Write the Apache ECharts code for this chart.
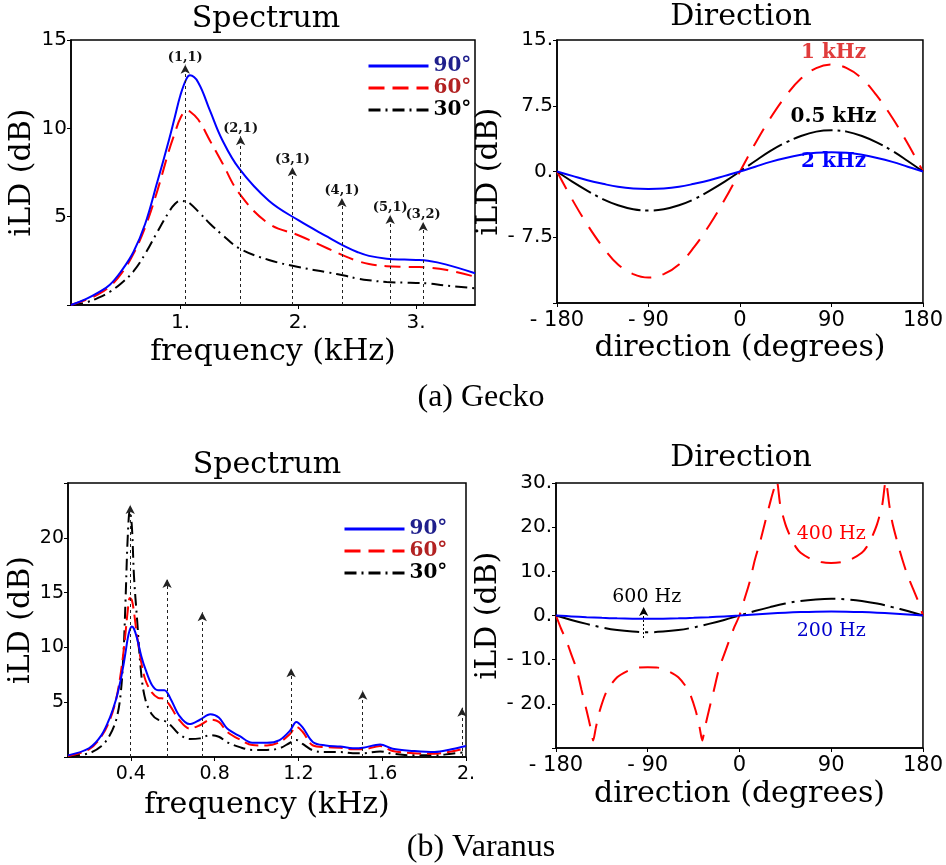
<!DOCTYPE html>
<html>
<head>
<meta charset="utf-8">
<script src="https://cdn.jsdelivr.net/npm/echarts@6/dist/echarts.min.js"></script>
<style>
  html, body { margin: 0; padding: 0; background: #fff; }
  #chart { width: 946px; height: 865px; }
</style>
</head>
<body>
<div id="chart"></div>
<script>
// ---------- (a) Gecko: spectrum ----------
const geckoFreq = [0.07, 0.2, 0.3, 0.4, 0.5, 0.6, 0.7, 0.8, 0.9, 0.95, 1.0, 1.05, 1.08, 1.15, 1.25, 1.35, 1.5, 1.75, 2.0, 2.25, 2.4, 2.5, 2.6, 2.75, 2.9, 3.0, 3.1, 3.25, 3.5];
const gecko90 = [0, 0.35, 0.7, 1.15, 1.95, 3.0, 4.6, 6.9, 9.3, 10.6, 11.9, 12.8, 13.0, 12.6, 11.0, 9.4, 7.7, 5.9, 4.8, 3.85, 3.3, 3.0, 2.78, 2.62, 2.57, 2.55, 2.5, 2.3, 1.8];
const gecko60 = [0, 0.3, 0.6, 1.05, 1.8, 2.9, 4.4, 6.4, 8.7, 9.7, 10.6, 11.0, 10.95, 10.5, 9.3, 8.1, 6.3, 4.6, 3.95, 3.2, 2.75, 2.5, 2.32, 2.2, 2.16, 2.15, 2.12, 2.0, 1.6];
const gecko30 = [0, 0.15, 0.4, 0.75, 1.25, 1.9, 2.9, 4.1, 5.25, 5.7, 5.9, 5.85, 5.75, 5.3, 4.6, 4.0, 3.2, 2.55, 2.15, 1.85, 1.65, 1.5, 1.4, 1.3, 1.27, 1.25, 1.22, 1.1, 0.95];
const geckoModeFreq = [1.04, 1.51, 1.95, 2.37, 2.78, 3.06];
const geckoModeTip = [13.6, 9.55, 7.8, 6.05, 5.1, 4.7];
const geckoModeName = ['(1,1)', '(2,1)', '(3,1)', '(4,1)', '(5,1)', '(3,2)'];
const geckoFreqTicks = [1, 2, 3];

// ---------- (a) Gecko: direction ----------
const geckoAngle = [-180, -165, -150, -135, -120, -105, -90, -75, -60, -45, -30, -15, 0, 15, 30, 45, 60, 75, 90, 105, 120, 135, 150, 165, 180];
const geckoDir1k = [0, -3.2, -6.1, -8.6, -10.6, -11.7, -12.1, -11.7, -10.6, -8.6, -6.1, -3.2, 0, 3.2, 6.1, 8.6, 10.6, 11.8, 12.2, 11.8, 10.6, 8.6, 6.1, 3.2, 0];
const geckoDir05k = [0, -1.15, -2.2, -3.15, -3.85, -4.3, -4.45, -4.3, -3.85, -3.15, -2.2, -1.15, 0, 1.2, 2.35, 3.3, 4.05, 4.55, 4.7, 4.55, 4.05, 3.3, 2.35, 1.2, 0];
const geckoDir2k = [0, -0.5, -1.0, -1.4, -1.75, -1.95, -2.0, -1.95, -1.75, -1.4, -1.0, -0.5, 0, 0.55, 1.1, 1.55, 1.9, 2.15, 2.2, 2.15, 1.9, 1.55, 1.1, 0.55, 0];

// ---------- (b) Varanus: spectrum ----------
const varanusFreq = [0.1, 0.2, 0.26, 0.3, 0.33, 0.35, 0.365, 0.375, 0.385, 0.395, 0.405, 0.415, 0.43, 0.45, 0.47, 0.5, 0.53, 0.56, 0.59, 0.63, 0.68, 0.73, 0.78, 0.82, 0.86, 0.92, 0.98, 1.05, 1.11, 1.16, 1.19, 1.22, 1.27, 1.33, 1.4, 1.46, 1.51, 1.59, 1.65, 1.75, 1.85, 1.93, 2.0];
const varanus90 = [0.15, 0.8, 2.0, 3.6, 5.3, 6.9, 8.4, 9.6, 10.8, 11.6, 11.9, 11.7, 10.8, 9.2, 8.0, 6.6, 6.1, 6.1, 5.3, 3.8, 3.0, 3.4, 3.9, 3.6, 2.6, 1.9, 1.3, 1.3, 1.55, 2.4, 3.2, 2.7, 1.35, 1.05, 0.95, 0.8, 0.85, 1.15, 0.75, 0.55, 0.45, 0.7, 1.0];
const varanus60 = [0.1, 0.7, 1.9, 3.4, 5.3, 7.4, 9.6, 11.4, 13.3, 14.5, 14.3, 13.2, 11.0, 8.6, 7.0, 5.9, 5.4, 5.3, 4.6, 3.4, 2.6, 2.9, 3.4, 3.2, 2.3, 1.6, 1.1, 1.05, 1.35, 2.1, 2.75, 2.3, 1.05, 0.9, 0.85, 0.7, 0.7, 1.0, 0.55, 0.35, 0.3, 0.5, 0.8];
const varanus30 = [0.05, 0.35, 1.0, 2.0, 3.4, 5.5, 9.5, 14.5, 20.0, 22.5, 21.0, 16.5, 12.5, 7.5, 5.2, 3.9, 3.4, 3.3, 2.9, 2.1, 1.65, 1.7, 2.0, 1.85, 1.35, 0.9, 0.65, 0.65, 0.8, 1.3, 1.55, 1.2, 0.6, 0.45, 0.45, 0.35, 0.35, 0.5, 0.3, 0.15, 0.15, 0.3, 0.45];
const varanusModeFreq = [0.397, 0.573, 0.741, 1.165, 1.507, 1.981];
const varanusModeTip = [23.0, 16.25, 13.2, 8.1, 6.05, 4.5];
const varanusFreqTicks = [0.4, 0.8, 1.2, 1.6, 2.0];

// ---------- (b) Varanus: direction ----------
const varanusAngle = geckoAngle;
const varanusDir600 = [0, -1.0, -1.9, -2.7, -3.3, -3.65, -3.8, -3.65, -3.3, -2.7, -1.9, -1.0, 0, 1.0, 1.9, 2.7, 3.3, 3.65, 3.8, 3.65, 3.3, 2.7, 1.9, 1.0, 0];
const varanusDir200 = [0, -0.2, -0.38, -0.53, -0.65, -0.72, -0.75, -0.72, -0.65, -0.53, -0.38, -0.2, 0, 0.23, 0.45, 0.64, 0.78, 0.87, 0.9, 0.87, 0.78, 0.64, 0.45, 0.23, 0];
const varanus400Angle = [-180, -175, -170, -165, -160, -155, -150, -146, -143.5, -141, -137, -130, -120, -110, -100, -90, -80, -70, -60, -50, -43, -39, -36.5, -34, -30, -25, -20, -15, -10, -5, 0, 5, 10, 15, 20, 25, 30, 33, 36.5, 40, 45, 50, 55, 60, 70, 80, 90, 100, 110, 120, 125, 130, 135, 140, 143.5, 147, 150, 155, 160, 165, 170, 175, 180];
const varanusDir400 = [0, -3.0, -5.6, -8.8, -12.0, -16.8, -21.5, -25.5, -28.3, -25.5, -21.5, -17.0, -14.0, -12.6, -11.8, -11.7, -11.8, -12.6, -14.0, -17.0, -21.5, -25.5, -28.3, -25.5, -21.5, -16.8, -12.0, -8.8, -5.6, -2.6, 0, 3.8, 7.6, 12.5, 16.5, 21.0, 25.5, 28.0, 30.5, 25.0, 20.7, 17.8, 15.6, 14.2, 12.8, 12.1, 11.9, 12.1, 12.8, 14.2, 15.6, 17.8, 20.7, 25.0, 30.5, 25.0, 21.0, 16.5, 12.5, 9.0, 6.2, 3.4, 0];
const varanusArrowAngle = -94;
const varanusArrowFrom = -5.1;
const varanusArrowTo = 1.9;

// ---------- helpers ----------
const zip = (xs, ys) => xs.map((x, i) => [x, ys[i]]);
const SANS = 'DejaVu Sans';
const SERIF = 'DejaVu Serif';
const BLUE = '#0000ff', RED = '#ff0000', BLACK = '#000000';

function valueAxis(gridIndex, extra) {
  return Object.assign({
    type: 'value',
    gridIndex: gridIndex,
    nameLocation: 'middle',
    nameTextStyle: { fontFamily: SERIF, fontSize: 30, color: '#000' },
    splitLine: { show: false },
    axisLine: { show: true, onZero: false, lineStyle: { color: '#000', width: 1.5 } },
    axisTick: { show: true, inside: false, length: 4, lineStyle: { color: '#000', width: 1 } },
    axisLabel: { fontFamily: SANS, fontSize: 20, color: '#000', margin: 5 }
  }, extra);
}

function modeArrows(freqs, tips, names, labelled) {
  return freqs.map((f, i) => [
    { coord: [f, 0], name: labelled ? names[i] : '' },
    { coord: [f, tips[i]] }
  ]);
}

function textMarks(items, color, bold) {
  return {
    symbol: 'circle',
    symbolSize: 0,
    silent: true,
    label: { show: true, position: 'inside', formatter: '{b}', color: color, fontFamily: SERIF,
             fontWeight: bold ? 'bold' : 'normal', fontSize: bold ? 20 : 19 },
    data: items.map(it => ({ coord: [it[0], it[1]], name: it[2] }))
  };
}

const arrowLine = {
  silent: true,
  symbol: ['none', 'arrow'],
  symbolSize: [7, 9],
  lineStyle: { color: '#222', width: 1, type: [3, 3] },
  label: { show: true, position: 'end', formatter: '{b}', distance: 1,
           fontFamily: SERIF, fontWeight: 'bold', fontSize: 13, color: '#111' }
};

function spectrumLegend(left, top) {
  return {
    left: left, top: top, padding: 0, orient: 'vertical', itemWidth: 60, itemHeight: 14, itemGap: 2,
    selectedMode: false,
    itemStyle: { opacity: 0, borderWidth: 0 },
    lineStyle: { width: 3 },
    textStyle: { fontFamily: SERIF, fontWeight: 'bold', fontSize: 20 },
    data: [
      { name: '90°', textStyle: { color: '#1f1f8c' } },
      { name: '60°', textStyle: { color: '#b22222' } },
      { name: '30°', textStyle: { color: '#000' } }
    ]
  };
}

const chart = echarts.init(document.getElementById('chart'), null, { renderer: 'canvas' });

const option = {
  animation: false,
  backgroundColor: '#fff',
  grid: [
    { left: 71,  top: 40,  width: 404, height: 265, show: true, borderColor: '#000', borderWidth: 1.5 },
    { left: 557, top: 40,  width: 367, height: 263, show: true, borderColor: '#000', borderWidth: 1.5 },
    { left: 68,  top: 483, width: 398, height: 274, show: true, borderColor: '#000', borderWidth: 1.5 },
    { left: 556, top: 483, width: 368, height: 265, show: true, borderColor: '#000', borderWidth: 1.5 }
  ],
  xAxis: [
    valueAxis(0, {
      min: 0.07, max: 3.5, name: 'frequency (kHz)', nameGap: 32,
      axisTick: { show: true, length: 4, customValues: geckoFreqTicks, lineStyle: { color: '#000' } },
      axisLabel: { fontFamily: SANS, fontSize: 20, color: '#000', margin: 8,
                   customValues: geckoFreqTicks, formatter: v => v + '.' }
    }),
    valueAxis(1, {
      min: -180, max: 180, interval: 90, name: 'direction (degrees)', nameGap: 30,
      axisLabel: { fontFamily: SANS, fontSize: 21, color: '#000', margin: 7,
                   formatter: v => (v < 0 ? '- ' + Math.abs(v) : String(v)) }
    }),
    valueAxis(2, {
      min: 0.1, max: 2.0, name: 'frequency (kHz)', nameGap: 33,
      axisTick: { show: true, length: 4, customValues: varanusFreqTicks, lineStyle: { color: '#000' } },
      axisLabel: { fontFamily: SANS, fontSize: 19, color: '#000', margin: 8,
                   customValues: varanusFreqTicks, formatter: v => (v === 2 ? '2.' : v.toFixed(1)) }
    }),
    valueAxis(3, {
      min: -180, max: 180, interval: 90, name: 'direction (degrees)', nameGap: 31,
      axisLabel: { fontFamily: SANS, fontSize: 21, color: '#000', margin: 7,
                   formatter: v => (v < 0 ? '- ' + Math.abs(v) : String(v)) }
    })
  ],
  yAxis: [
    valueAxis(0, {
      min: 0, max: 15, interval: 5, name: 'iLD (dB)', nameGap: 32,
      axisLabel: { fontFamily: SANS, fontSize: 20, color: '#000', margin: 4,
                   formatter: v => (v === 0 ? '' : String(v)) }
    }),
    valueAxis(1, {
      min: -15, max: 15, interval: 7.5, name: 'iLD (dB)', nameGap: 46,
      axisLabel: { fontFamily: SANS, fontSize: 20, color: '#000', margin: 4,
                   formatter: v => ({ '15': '15.', '7.5': '7.5', '0': '0.', '-7.5': '- 7.5' }[String(v)] || '') }
    }),
    valueAxis(2, {
      min: 0, max: 25, interval: 5, name: 'iLD (dB)', nameGap: 28,
      axisLabel: { fontFamily: SANS, fontSize: 19, color: '#000', margin: 4,
                   formatter: v => (v === 0 || v === 25 ? '' : String(v)) }
    }),
    valueAxis(3, {
      min: -30, max: 30, interval: 10, name: 'iLD (dB)', nameGap: 45,
      axisLabel: { fontFamily: SANS, fontSize: 20, color: '#000', margin: 4,
                   formatter: v => (v === -30 ? '' : (v < 0 ? '- ' + Math.abs(v) + '.' : v + '.')) }
    })
  ],
  legend: [spectrumLegend(367, 56), spectrumLegend(343, 519)],
  series: [
    // (a) spectrum
    { name: '30°', type: 'line', xAxisIndex: 0, yAxisIndex: 0, data: zip(geckoFreq, gecko30), smooth: 0.4,
      showSymbol: false, symbol: 'none', color: BLACK, lineStyle: { color: BLACK, width: 2, type: [12, 5, 2, 5] } },
    { name: '60°', type: 'line', xAxisIndex: 0, yAxisIndex: 0, data: zip(geckoFreq, gecko60), smooth: 0.4,
      showSymbol: false, symbol: 'none', color: RED, lineStyle: { color: RED, width: 2, type: [16, 8] } },
    { name: '90°', type: 'line', xAxisIndex: 0, yAxisIndex: 0, data: zip(geckoFreq, gecko90), smooth: 0.4,
      showSymbol: false, symbol: 'none', color: BLUE, lineStyle: { color: BLUE, width: 2 } },
    { name: 'gecko modes', type: 'line', xAxisIndex: 0, yAxisIndex: 0, data: [],
      markLine: Object.assign({}, arrowLine, { data: modeArrows(geckoModeFreq, geckoModeTip, geckoModeName, true) }) },

    // (a) direction
    { name: '1 kHz', type: 'line', xAxisIndex: 1, yAxisIndex: 1, data: zip(geckoAngle, geckoDir1k), smooth: 0.4,
      showSymbol: false, symbol: 'none', lineStyle: { color: RED, width: 2, type: [20, 12] },
      markPoint: textMarks([[92, 13.5, '1 kHz']], '#e03c3c', true) },
    { name: '0.5 kHz', type: 'line', xAxisIndex: 1, yAxisIndex: 1, data: zip(geckoAngle, geckoDir05k), smooth: 0.4,
      showSymbol: false, symbol: 'none', lineStyle: { color: BLACK, width: 2, type: [40, 5, 3, 5] },
      markPoint: textMarks([[92, 6.2, '0.5 kHz']], '#000', true) },
    { name: '2 kHz', type: 'line', xAxisIndex: 1, yAxisIndex: 1, data: zip(geckoAngle, geckoDir2k), smooth: 0.4,
      showSymbol: false, symbol: 'none', lineStyle: { color: BLUE, width: 2 },
      markPoint: textMarks([[92, 1.1, '2 kHz']], BLUE, true) },

    // (b) spectrum
    { name: '30°', type: 'line', xAxisIndex: 2, yAxisIndex: 2, data: zip(varanusFreq, varanus30), smooth: 0.35,
      showSymbol: false, symbol: 'none', color: BLACK, lineStyle: { color: BLACK, width: 2, type: [12, 5, 2, 5] } },
    { name: '60°', type: 'line', xAxisIndex: 2, yAxisIndex: 2, data: zip(varanusFreq, varanus60), smooth: 0.35,
      showSymbol: false, symbol: 'none', color: RED, lineStyle: { color: RED, width: 2, type: [14, 6] } },
    { name: '90°', type: 'line', xAxisIndex: 2, yAxisIndex: 2, data: zip(varanusFreq, varanus90), smooth: 0.35,
      showSymbol: false, symbol: 'none', color: BLUE, lineStyle: { color: BLUE, width: 2 } },
    { name: 'varanus modes', type: 'line', xAxisIndex: 2, yAxisIndex: 2, data: [],
      markLine: Object.assign({}, arrowLine, { data: modeArrows(varanusModeFreq, varanusModeTip, [], false) }) },

    // (b) direction
    { name: '400 Hz', type: 'line', xAxisIndex: 3, yAxisIndex: 3, data: zip(varanus400Angle, varanusDir400), smooth: 0.25,
      showSymbol: false, symbol: 'none', clip: true, lineStyle: { color: RED, width: 2, type: [20, 12] },
      markPoint: textMarks([[90, 18.5, '400 Hz']], RED, false) },
    { name: '600 Hz', type: 'line', xAxisIndex: 3, yAxisIndex: 3, data: zip(varanusAngle, varanusDir600), smooth: 0.4,
      showSymbol: false, symbol: 'none', lineStyle: { color: BLACK, width: 2, type: [35, 6, 3, 6] },
      markPoint: textMarks([[-91, 4.15, '600 Hz']], '#000', false),
      markLine: {
        silent: true, symbol: ['none', 'arrow'], symbolSize: [7, 9],
        lineStyle: { color: '#000', width: 1, type: [2, 2] }, label: { show: false },
        data: [[{ coord: [varanusArrowAngle, varanusArrowFrom] }, { coord: [varanusArrowAngle, varanusArrowTo] }]]
      } },
    { name: '200 Hz', type: 'line', xAxisIndex: 3, yAxisIndex: 3, data: zip(varanusAngle, varanusDir200), smooth: 0.4,
      showSymbol: false, symbol: 'none', lineStyle: { color: BLUE, width: 2 },
      markPoint: textMarks([[90, -3.6, '200 Hz']], '#0000cc', false) }
  ],
  graphic: [
    { type: 'text', x: 266, y: 19, style: { text: 'Spectrum', font: '30px "DejaVu Serif"', fill: '#000', textAlign: 'center', textVerticalAlign: 'middle' } },
    { type: 'text', x: 741, y: 17, style: { text: 'Direction', font: '30px "DejaVu Serif"', fill: '#000', textAlign: 'center', textVerticalAlign: 'middle' } },
    { type: 'text', x: 267, y: 465, style: { text: 'Spectrum', font: '30px "DejaVu Serif"', fill: '#000', textAlign: 'center', textVerticalAlign: 'middle' } },
    { type: 'text', x: 741, y: 458, style: { text: 'Direction', font: '30px "DejaVu Serif"', fill: '#000', textAlign: 'center', textVerticalAlign: 'middle' } },
    { type: 'text', x: 481, y: 398, style: { text: '(a) Gecko', font: '32px "Liberation Serif"', fill: '#000', textAlign: 'center', textVerticalAlign: 'middle' } },
    { type: 'text', x: 481, y: 848, style: { text: '(b) Varanus', font: '32px "Liberation Serif"', fill: '#000', textAlign: 'center', textVerticalAlign: 'middle' } }
  ]
};

chart.setOption(option);
</script>
</body>
</html>
